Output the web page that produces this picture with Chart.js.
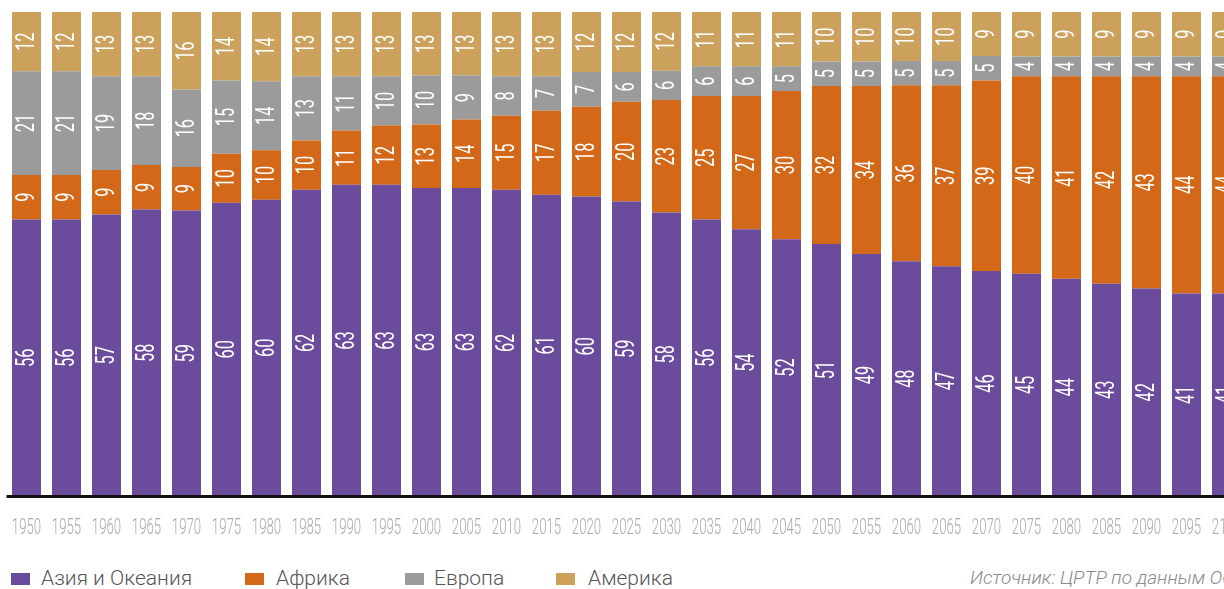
<!DOCTYPE html>
<html lang="ru">
<head>
<meta charset="utf-8">
<script src="https://cdn.jsdelivr.net/npm/chart.js@4"></script>
<style>
  html, body { margin: 0; padding: 0; background: #fff; overflow: hidden; }
  #wrap { position: relative; width: 1224px; height: 589px; overflow: hidden; }
  #chart { position: absolute; left: 0; top: 0; }
  .legend { position: absolute; top: 566px; left: 0; font-family: Roboto, sans-serif; font-weight: 300; font-size: 21px; color: #555; }
  .item { position: absolute; white-space: nowrap; line-height: 24px; }
  .item i { position: absolute; top: 7px; width: 19px; height: 12px; }
  .source { position: absolute; left: 970px; top: 566px; white-space: nowrap; font-family: Roboto, sans-serif; font-weight: 300; font-style: italic; font-size: 19px; line-height: 24px; color: #8a8a8a; }
</style>
</head>
<body>
<div id="wrap">
  <canvas id="chart" width="1250" height="545"></canvas>
  <div class="legend" id="legend"></div>
  <div class="source">Источник: ЦРТР по данным ООН</div>
</div>
<script>
const years = ["1950", "1955", "1960", "1965", "1970", "1975", "1980", "1985", "1990", "1995",
  "2000", "2005", "2010", "2015", "2020", "2025", "2030", "2035", "2040", "2045",
  "2050", "2055", "2060", "2065", "2070", "2075", "2080", "2085", "2090", "2095", "2100"];

// доли регионов в населении мира, %
const asia = [56, 56, 57, 58, 59, 60, 60, 62, 63, 63, 63, 63, 62, 61, 60, 59, 58, 56, 54, 52,
  51, 49, 48, 47, 46, 45, 44, 43, 42, 41, 41];
const africa = [9, 9, 9, 9, 9, 10, 10, 10, 11, 12, 13, 14, 15, 17, 18, 20, 23, 25, 27, 30,
  32, 34, 36, 37, 39, 40, 41, 42, 43, 44, 44];
const europe = [21, 21, 19, 18, 16, 15, 14, 13, 11, 10, 10, 9, 8, 7, 7, 6, 6, 6, 6, 5,
  5, 5, 5, 5, 5, 4, 4, 4, 4, 4, 4];
const america = [12, 12, 13, 13, 16, 14, 14, 13, 13, 13, 13, 13, 13, 13, 12, 12, 12, 11, 11, 11,
  10, 10, 10, 10, 9, 9, 9, 9, 9, 9, 9];

const regions = [
  { name: "Азия и Океания", values: asia, color: "#6b4b9b" },
  { name: "Африка", values: africa, color: "#d26818" },
  { name: "Европа", values: europe, color: "#9b9b9b" },
  { name: "Америка", values: america, color: "#cba15b" }
];

// столбики растягиваются до 100%, подписи показывают округлённые значения
const totals = years.map((_, i) => regions.reduce((s, r) => s + r.values[i], 0));

const datasets = regions.map(r => ({
  label: r.name,
  data: r.values.map((v, i) => v / totals[i] * 100),
  raw: r.values,
  backgroundColor: r.color,
  borderWidth: 0,
  barPercentage: 0.725,
  categoryPercentage: 1
}));

// узкий шрифт имитируем сжатием по направлению текста
function squeezedText(ctx, text, x, y, rotate, squeeze) {
  ctx.save();
  ctx.translate(x, y);
  if (rotate) ctx.rotate(-Math.PI / 2);
  ctx.scale(squeeze, 1);
  ctx.fillText(text, 0, 0);
  ctx.restore();
}

const labelsPlugin = {
  id: "labels",
  afterDatasetsDraw(chart) {
    const ctx = chart.ctx;
    ctx.textAlign = "center";
    ctx.textBaseline = "middle";
    ctx.fillStyle = "#fff";
    ctx.font = "400 26px Roboto";
    chart.data.datasets.forEach((ds, di) => {
      chart.getDatasetMeta(di).data.forEach((bar, i) => {
        const mid = (bar.y + bar.base) / 2;
        squeezedText(ctx, String(ds.raw[i]), bar.x + 1, mid, true, 0.63);
      });
    });

    const area = chart.chartArea;
    const xs = chart.scales.x;
    // базовая линия
    ctx.fillStyle = "#111";
    ctx.fillRect(area.left, area.bottom - 1, area.right - area.left + 10, 3);

    // подписи годов
    ctx.fillStyle = "#ababab";
    ctx.font = "300 22px Roboto";
    years.forEach((y, i) => {
      squeezedText(ctx, y, xs.getPixelForValue(i), 528, false, 0.6);
    });
  }
};

new Chart(document.getElementById("chart"), {
  type: "bar",
  data: { labels: years, datasets },
  options: {
    responsive: false,
    animation: false,
    layout: { padding: { left: 6.5, right: 3.5, top: 12, bottom: 49 } },
    plugins: { legend: { display: false }, tooltip: { enabled: false } },
    scales: {
      x: { stacked: true, display: false },
      y: { stacked: true, display: false, min: 0, max: 100 }
    }
  },
  plugins: [labelsPlugin]
});

// легенда
const legendPos = [[11, 41], [245, 276], [405, 434], [556, 588]];
const legend = document.getElementById("legend");
regions.forEach((r, i) => {
  const el = document.createElement("div");
  el.className = "item";
  el.style.left = legendPos[i][0] + "px";
  el.style.paddingLeft = (legendPos[i][1] - legendPos[i][0]) + "px";
  el.innerHTML = '<i style="left:0;background:' + r.color + '"></i>' + r.name;
  legend.appendChild(el);
});
</script>
</body>
</html>
